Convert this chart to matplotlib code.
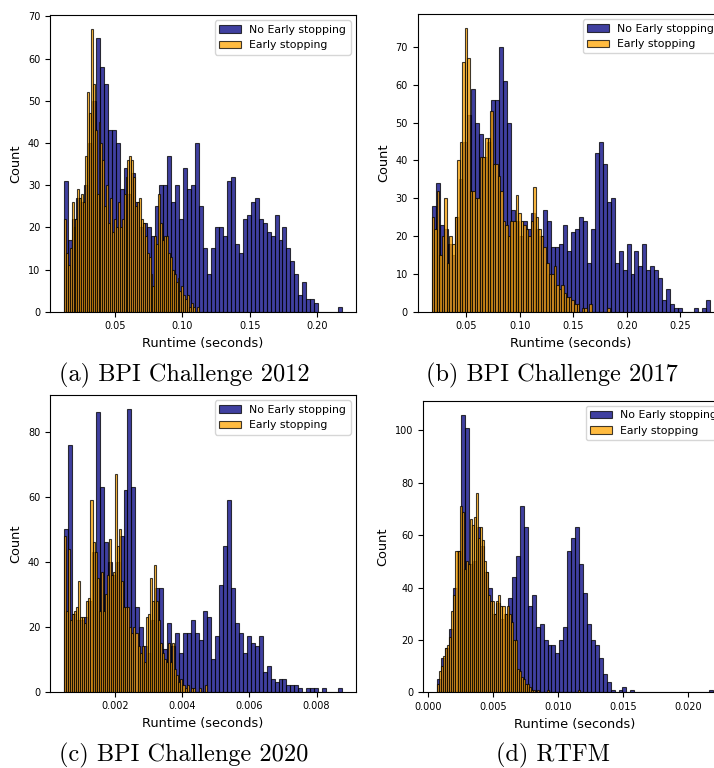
import numpy as np
import matplotlib
matplotlib.use("Agg")
import matplotlib.pyplot as plt

# runtime ranges (seconds) and bin counts, 70 bins per series
# (a) BPI Challenge 2012
a_no_range = (0.0120, 0.2186)
a_no_counts = [31, 17, 22, 27, 26, 30, 40, 50, 65, 58, 54, 43, 43, 40, 29, 34, 28, 33, 26, 20,
               21, 20, 18, 25, 30, 30, 37, 26, 30, 22, 34, 29, 30, 40, 25, 15, 9, 15, 20, 20,
               18, 31, 32, 16, 14, 22, 23, 26, 27, 22, 21, 19, 18, 23, 17, 20, 15, 12, 9, 4,
               7, 3, 3, 2, 0, 0, 0, 0, 0, 1]
a_es_range = (0.0120, 0.1121)
a_es_counts = [22, 14, 11, 15, 26, 20, 22, 29, 27, 28, 26, 37, 52, 47, 67, 54, 43, 28, 45, 40,
               36, 25, 30, 21, 27, 19, 22, 20, 26, 20, 22, 28, 32, 36, 37, 36, 32, 25, 26, 27,
               22, 21, 18, 14, 13, 9, 6, 18, 16, 28, 21, 17, 18, 18, 14, 13, 10, 9, 7, 8,
               5, 6, 4, 3, 4, 1, 2, 1, 0, 1]

# (b) BPI Challenge 2017
b_no_range = (0.0179, 0.2778)
b_no_counts = [28, 34, 23, 22, 18, 15, 25, 35, 45, 52, 59, 50, 47, 41, 45, 56, 56, 70, 61, 50,
               27, 24, 20, 24, 22, 26, 22, 20, 27, 24, 17, 17, 18, 23, 16, 21, 22, 25, 24, 13,
               22, 42, 45, 39, 29, 30, 13, 16, 11, 18, 10, 16, 12, 18, 11, 12, 11, 9, 3, 6,
               2, 1, 1, 0, 0, 0, 1, 0, 1, 3]
b_es_range = (0.0179, 0.1840)
b_es_counts = [25, 22, 32, 15, 20, 30, 13, 20, 18, 25, 40, 45, 66, 75, 67, 32, 32, 30, 30, 41,
               41, 46, 46, 53, 39, 39, 36, 32, 24, 23, 20, 24, 24, 31, 26, 24, 23, 22, 20, 24,
               33, 25, 22, 20, 17, 13, 10, 10, 12, 7, 6, 7, 5, 4, 4, 3, 2, 2, 0, 1,
               1, 0, 2, 0, 0, 0, 0, 0, 0, 1]

# (c) BPI Challenge 2020
c_no_range = (0.00048, 0.00876)
c_no_counts = [50, 76, 24, 22, 22, 23, 28, 43, 86, 63, 46, 40, 36, 40, 48, 62, 87, 63, 26, 20,
               14, 12, 22, 32, 32, 13, 21, 14, 18, 12, 18, 18, 22, 18, 16, 25, 23, 10, 17, 33,
               45, 59, 32, 21, 18, 12, 17, 15, 14, 17, 6, 8, 4, 3, 4, 4, 2, 2, 2, 1,
               0, 1, 1, 1, 0, 1, 0, 0, 0, 1]
c_es_range = (0.00048, 0.00474)
c_es_counts = [48, 25, 44, 22, 24, 25, 26, 34, 23, 23, 21, 28, 29, 59, 46, 43, 35, 25, 37, 25,
               30, 36, 47, 36, 37, 67, 45, 50, 34, 26, 26, 26, 20, 18, 20, 18, 14, 12, 14, 9,
               23, 24, 35, 28, 39, 28, 22, 15, 12, 10, 9, 15, 9, 15, 7, 5, 3, 4, 2, 1,
               2, 0, 1, 1, 0, 0, 1, 0, 0, 2]

# (d) RTFM
d_no_range = (0.00072, 0.02194)
d_no_counts = [5, 13, 17, 24, 40, 54, 106, 101, 49, 50, 63, 56, 46, 40, 30, 34, 28, 30, 36, 44,
               52, 71, 63, 33, 37, 25, 26, 20, 18, 18, 15, 20, 25, 54, 59, 63, 49, 38, 26, 20,
               18, 13, 7, 4, 1, 0, 1, 2, 0, 1, 0, 0, 0, 0, 0, 0, 0, 0, 0, 0,
               0, 0, 0, 0, 0, 0, 0, 0, 0, 1]
d_es_range = (0.00072, 0.01171)
d_es_counts = [3, 8, 10, 14, 17, 18, 21, 31, 37, 54, 54, 71, 69, 47, 50, 49, 66, 64, 67, 76,
               59, 63, 58, 50, 46, 37, 35, 35, 30, 35, 37, 33, 33, 30, 33, 30, 27, 20, 20, 9,
               8, 6, 5, 3, 3, 2, 1, 1, 0, 1, 0, 0, 0, 0, 1, 0, 0, 0, 0, 0,
               0, 0, 0, 0, 0, 0, 0, 0, 0, 1]

captions = ["(a) BPI Challenge 2012", "(b) BPI Challenge 2017",
            "(c) BPI Challenge 2020", "(d) RTFM"]


def draw_hist(ax, rng, counts, color, label):
    edges = np.linspace(rng[0], rng[1], len(counts) + 1)
    ax.bar(edges[:-1], counts, width=np.diff(edges), align='edge', color=color,
           alpha=0.75, edgecolor='black', linewidth=0.8, label=label)


def main():
    fig = plt.figure(figsize=(7.14, 7.68), dpi=100)
    W, H = 714.0, 768.0

    # axes boxes in pixels: left, top, right, bottom
    boxes = [(50, 15, 356, 311.7), (417.7, 14, 724, 311.7),
             (50, 395, 356, 691.7), (423.3, 400.7, 727, 692.3)]
    data = [(a_no_range, a_no_counts, a_es_range, a_es_counts),
            (b_no_range, b_no_counts, b_es_range, b_es_counts),
            (c_no_range, c_no_counts, c_es_range, c_es_counts),
            (d_no_range, d_no_counts, d_es_range, d_es_counts)]
    cap_pos = [(184, 375), (552, 375), (184, 755), (553, 755)]

    for i in range(4):
        l, t, r, b = boxes[i]
        ax = fig.add_axes([l / W, 1 - b / H, (r - l) / W, (b - t) / H])
        no_rng, no_cnt, es_rng, es_cnt = data[i]
        draw_hist(ax, no_rng, no_cnt, 'navy', 'No Early stopping')
        draw_hist(ax, es_rng, es_cnt, 'orange', 'Early stopping')
        ax.set_xlabel('Runtime (seconds)', fontsize=9.3)
        ax.set_ylabel('Count', fontsize=9.3)
        ax.tick_params(labelsize=7)
        ax.legend(loc='upper right', fontsize=7.8)

        cx, cy = cap_pos[i]
        fig.text(cx / W, 1 - cy / H, captions[i], ha='center', va='center',
                 fontfamily='cmr10', fontsize=17.5)

    fig.savefig('out.png', dpi=100)


if __name__ == '__main__':
    main()
